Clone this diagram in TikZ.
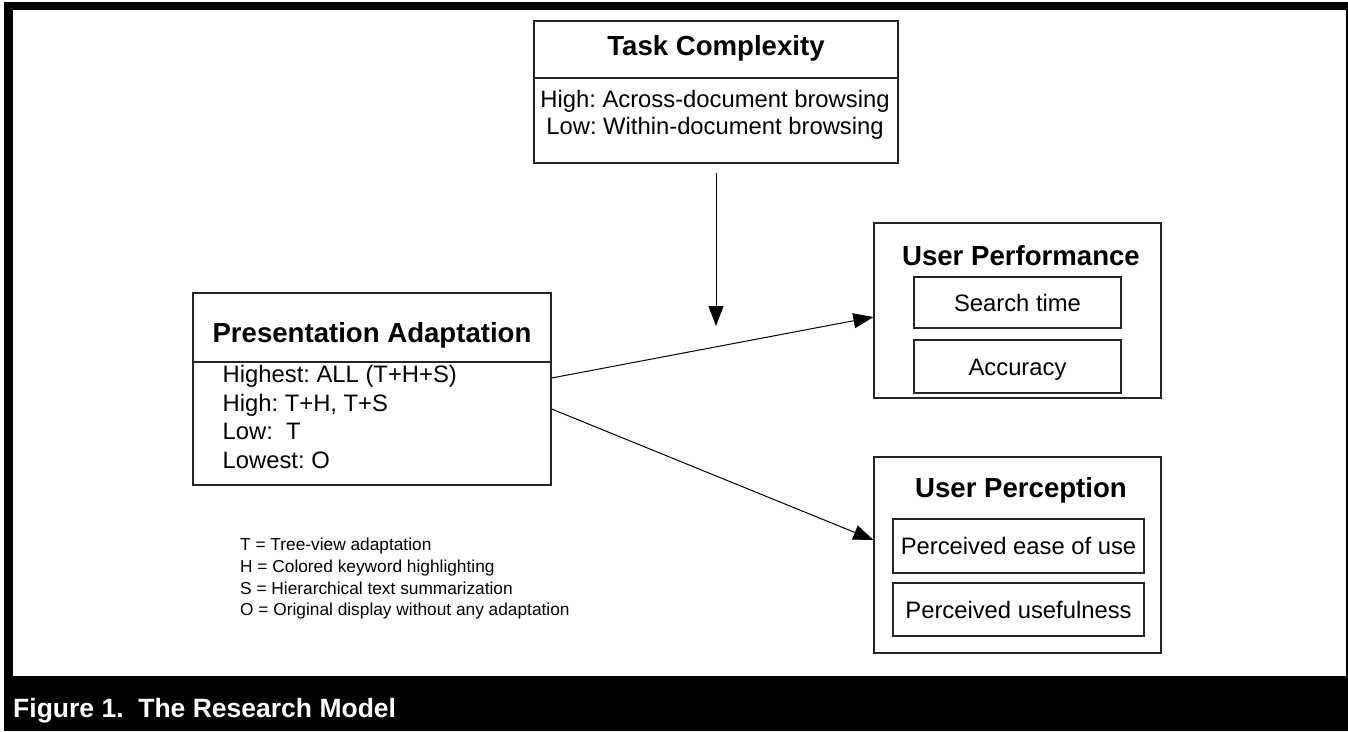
\documentclass[tikz,border=0pt]{standalone}
\usepackage{fontspec}
\setmainfont{Liberation Sans}
\usetikzlibrary{arrows.meta}
\frenchspacing
\begin{document}
\begin{tikzpicture}[x=1pt,y=-1pt,
  box/.style={draw=black!85,line width=1.2pt,inner sep=0pt,fill=white},
  inbox/.style={box,font=\fontsize{23.8}{28}\selectfont,text height=17.1pt,text depth=0pt},
  ttl/.style={font=\fontsize{27.6}{32}\selectfont\bfseries,anchor=base,inner sep=0pt},
  txt/.style={font=\fontsize{23.8}{28}\selectfont,anchor=base,inner sep=0pt},
  txtl/.style={font=\fontsize{23.8}{28}\selectfont,anchor=base west,inner sep=0pt},
  leg/.style={font=\fontsize{17.3}{20}\selectfont,anchor=base west,inner sep=0pt},
  arr/.style={-{Triangle[length=20pt,width=15pt]},line width=1pt}]
\useasboundingbox (0,0) rectangle (1348,731);
\fill[white] (0,0) rectangle (1348,731);
\fill[black] (4,2) rectangle (1348,731);
\fill[white] (13,10) rectangle (1346,676);
\node[font=\fontsize{26.5}{30}\selectfont\bfseries,text=white,anchor=base west,inner sep=0pt] (cap) at (13,717) {Figure 1.\ \ The Research Model};

% Task Complexity
\node[box,minimum width=364pt,minimum height=142pt] (tc) at (716,92) {};
\draw[black!85,line width=1.2pt] (tc.west |- 0,78) -- (tc.east |- 0,78);
\node[ttl] (tct) at (716,55) {Task Complexity};
\node[txt] (tc1) at (715,107) {High: Across-document browsing};
\node[txt] (tc2) at (715,134) {Low: Within-document browsing};

% Presentation Adaptation
\node[box,minimum width=358pt,minimum height=192pt] (pa) at (372,389) {};
\draw[black!85,line width=1.2pt] (pa.west |- 0,362) -- (pa.east |- 0,362);
\node[ttl] (pat) at (372,342) {Presentation Adaptation};
\node[txtl] (pa1) at (222.5,382) {Highest: ALL (T+H+S)};
\node[txtl] (pa2) at (222.5,411) {High: T+H, T+S};
\node[txtl] (pa3) at (222.5,439.5) {Low:\ \ T};
\node[txtl] (pa4) at (222.5,468) {Lowest: O};

% Legend
\node[leg] (l1) at (240,550) {T = Tree-view adaptation};
\node[leg] (l2) at (240,572) {H = Colored keyword highlighting};
\node[leg] (l3) at (240,594) {S = Hierarchical text summarization};
\node[leg] (l4) at (240,615.5) {O = Original display without any adaptation};

% User Performance
\node[box,minimum width=287pt,minimum height=175pt] (up) at (1017.5,310.5) {};
\node[ttl] (upt) at (1021,265) {User Performance};
\node[inbox,minimum width=207pt,minimum height=51pt] (st) at (1017.5,302.5) {Search time};
\node[inbox,minimum width=207pt,minimum height=53pt] (ac) at (1017.5,366.5) {Accuracy};

% User Perception
\node[box,minimum width=287pt,minimum height=196pt] (uq) at (1017.5,555) {};
\node[ttl] (uqt) at (1021,497) {User Perception};
\node[inbox,minimum width=251pt,minimum height=54pt] (pe) at (1018.5,546) {Perceived ease of use};
\node[inbox,minimum width=251pt,minimum height=53pt] (pu) at (1018.5,609.5) {Perceived usefulness};

% Connectors
\coordinate (mod) at (716,326);
\draw[arr] ([yshift=-9pt]tc.south) -- (mod);
\draw[arr] (pa.east |- 0,378) -- (up.west |- 0,317);
\draw[arr] (pa.east |- 0,409) -- (uq.west |- 0,540);
\end{tikzpicture}
\end{document}
